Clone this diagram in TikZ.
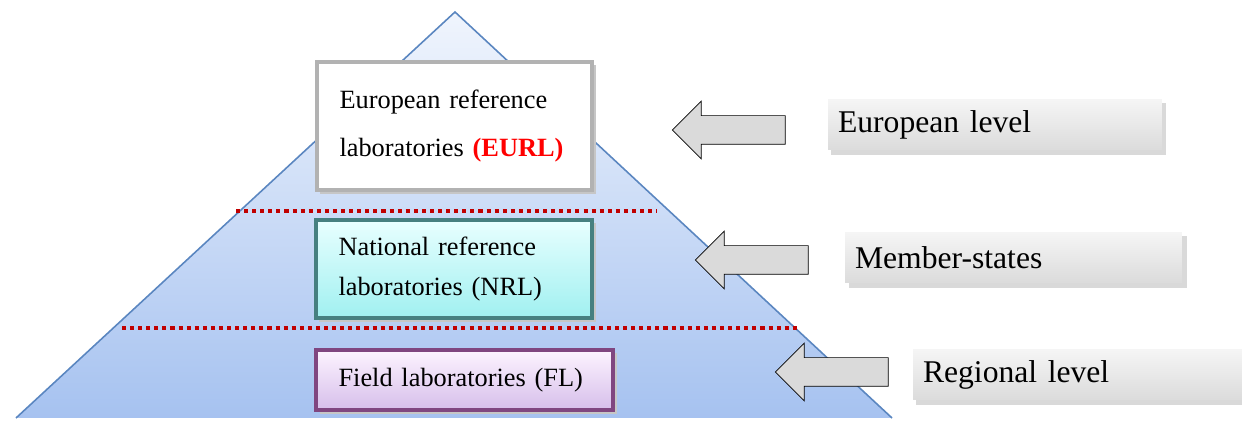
\documentclass[tikz,border=0pt]{standalone}
\usepackage{fontspec}
\setmainfont{Liberation Serif}
\usepackage{xcolor}
\usetikzlibrary{shapes, arrows, positioning}

\definecolor{tritop}{HTML}{F0F5FD}
\definecolor{tribot}{HTML}{A6C2F0}
\definecolor{triline}{HTML}{5A86C0}
\definecolor{dotred}{HTML}{C00000}
\definecolor{nrltop}{HTML}{E8FFFF}
\definecolor{nrlbot}{HTML}{A0F0F0}
\definecolor{fltop}{HTML}{FDF4FF}
\definecolor{flbot}{HTML}{D6BEEA}
\definecolor{arrgray}{HTML}{DADADA}

\begin{document}
\begin{tikzpicture}[x=0.02cm,y=-0.02cm]
        \useasboundingbox (0,0) rectangle (1242,421);
        \shade[top color=tritop, bottom color=tribot] (16,418) -- (455,12) -- (892,418) -- cycle;
        \draw[triline, line width=0.9pt] (16,418) -- (455,12) -- (892,418);
        \begin{scope}[dotred, line width=2.3pt, dash pattern=on 2.3pt off 2.3pt]
          \draw (236,211) -- (657,211);
          \draw (122,328) -- (800,328);
        \end{scope}
        \begin{scope}[fill=gray!45]
          \fill (320,65) rectangle (596,194);
          \fill (319,223) rectangle (596,322);
          \fill (320,353) rectangle (617,414);
          \fill[gray!30] (831,103) rectangle (1166,155);
          \fill[gray!30] (849,236) rectangle (1187,288);
          \fill[gray!30] (916,353) rectangle (1246,405);
        \end{scope}
        \begin{scope}[every node/.style={draw, line width=2.2pt, align=left, inner xsep=0.4cm}]
          \node[fill=white, draw=gray!60, minimum width=5.5cm, minimum height=2.56cm, text width=4.6cm,
            font=\fontsize{15}{27}\selectfont] (eurl) at (454.5,126)
            {European reference\\laboratories \textcolor{red}{\textbf{(EURL)}}};
          \node[top color=nrltop, bottom color=nrlbot, draw=teal!45!gray, minimum width=5.52cm, minimum height=1.96cm,
            text width=4.62cm, font=\fontsize{15}{23}\selectfont] (nrl) at (454,269)
            {National reference\\laboratories (NRL)};
          \node[top color=fltop, bottom color=flbot, draw=violet!45!gray, minimum width=5.94cm, minimum height=1.2cm,
            text width=5.04cm, font=\fontsize{15}{18}\selectfont] (fl) at (464.5,380)
            {Field laboratories (FL)};
        \end{scope}
        \begin{scope}[every node/.style={single arrow, draw=black, thin, rotate=180, fill=arrgray,
            minimum height=2.26cm, inner sep=0.28cm, single arrow head extend=0.29cm,
            single arrow tip angle=90}]
          \node (a) at (736,130) {};
          \node (b) at (759,260) {};
          \node (c) at (839,372) {};
        \end{scope}
        \begin{scope}[every node/.style={top color=gray!8, bottom color=gray!28, align=left, inner xsep=0.2cm,
            font=\fontsize{18}{20}\selectfont, minimum height=1cm}]
          \node[minimum width=6.68cm, text width=6.28cm] (eu) at (995,125) {European level};
          \node[minimum width=6.74cm, text width=6.34cm] (ms) at (1013.5,258) {Member-states};
          \node[minimum width=6.58cm, text width=6.18cm] (rl) at (1077.5,375) {Regional level};
        \end{scope}
      \end{tikzpicture}
\end{document}
